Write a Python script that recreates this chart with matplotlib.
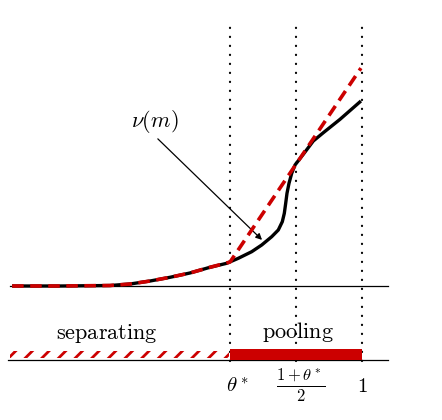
import matplotlib
matplotlib.use("Agg")
import matplotlib.pyplot as plt
import numpy as np

plt.rcParams['mathtext.fontset'] = 'cm'
plt.rcParams['hatch.linewidth'] = 2.0

theta_star = 0.625
mid = (1 + theta_star) / 2

# black curve nu(m)
nu_x = [0.006, 0.142, 0.284, 0.341, 0.398, 0.4545, 0.511, 0.568, 0.6156, 0.6486,
        0.6866, 0.7151, 0.7435, 0.7622, 0.7736, 0.7793, 0.7832, 0.7869, 0.7926,
        0.8003, 0.8097, 0.8332, 0.8616, 0.8901, 0.9375, 0.997]
nu_y = [0.000, 0.000, 0.0014, 0.0057, 0.0142, 0.0247, 0.0369, 0.0531, 0.0645, 0.0787,
        0.0974, 0.1165, 0.1401, 0.1591, 0.1827, 0.2065, 0.2349, 0.2633, 0.2917,
        0.3201, 0.3438, 0.3741, 0.4119, 0.4355, 0.4735, 0.5256]

# red dashed curve
red_x = [0.006, 0.142, 0.284, 0.341, 0.398, 0.4545, 0.511, 0.568, 0.625, 0.997]
red_y = [0.000, 0.000, 0.0014, 0.0057, 0.0142, 0.0247, 0.0369, 0.0531, 0.068, 0.619]

xtick_pos = [theta_star, mid, 1.0]
xtick_labels = [r'$\theta^*$', r'$\frac{1+\theta^*}{2}$', r'$1$']
xtick_sizes = [15, 17, 15]
xtick_dx = [0.02, 0.015, 0.0]

fig = plt.figure(figsize=(4.42, 4.20), dpi=100)
ax = fig.add_axes([0, 0, 1, 1])
ax.set_xlim(-10/352, 432/352)
ax.set_ylim(-134/352, 286/352)
ax.axis('off')

red = '#CC0000'
y_low = -0.210
bar_h = 0.031

# axes lines
ax.plot([0.0, 1.074], [0, 0], color='black', lw=0.9, zorder=2)
ax.plot([-0.006, 1.074], [y_low, y_low], color='black', lw=0.9, zorder=2)

# dotted verticals
for xv in xtick_pos:
    ax.plot([xv, xv], [-0.213, 0.736], color='black', lw=1.6,
            linestyle=(0, (0.1, 3.95)), dash_capstyle='round', zorder=1)

# bars
ax.add_patch(plt.Rectangle((theta_star, y_low), 1 - theta_star, bar_h,
                           facecolor=red, edgecolor='none', zorder=3))
ax.add_patch(plt.Rectangle((0.0, -0.2045), theta_star - 0.004, 0.0205,
                           facecolor='white', edgecolor=red, lw=0, hatch='//', zorder=3))

# curves
ax.plot(nu_x, nu_y, color='black', lw=2.4, solid_capstyle='butt',
        solid_joinstyle='round', zorder=4)
ax.plot(red_x, red_y, color=red, lw=2.6, linestyle=(0, (3.2, 1.8)), zorder=5)

# labels
ax.text(0.276, -0.134, r'$\mathrm{separating}$', fontsize=16, ha='center', va='center')
ax.text(0.818, -0.131, r'$\mathrm{pooling}$', fontsize=16, ha='center', va='center')
for xp, lab, fs, dx in zip(xtick_pos, xtick_labels, xtick_sizes, xtick_dx):
    ax.text(xp + dx, -0.283, lab, fontsize=fs, ha='center', va='center')

ax.annotate('', xy=(0.716, 0.131), xytext=(0.420, 0.418),
            arrowprops=dict(arrowstyle='-|>', color='black', lw=0.9,
                            mutation_scale=9, shrinkA=0, shrinkB=0))
ax.text(0.412, 0.466, r'$\nu(m)$', fontsize=16, ha='center', va='center')

fig.savefig('out.png', dpi=100)
